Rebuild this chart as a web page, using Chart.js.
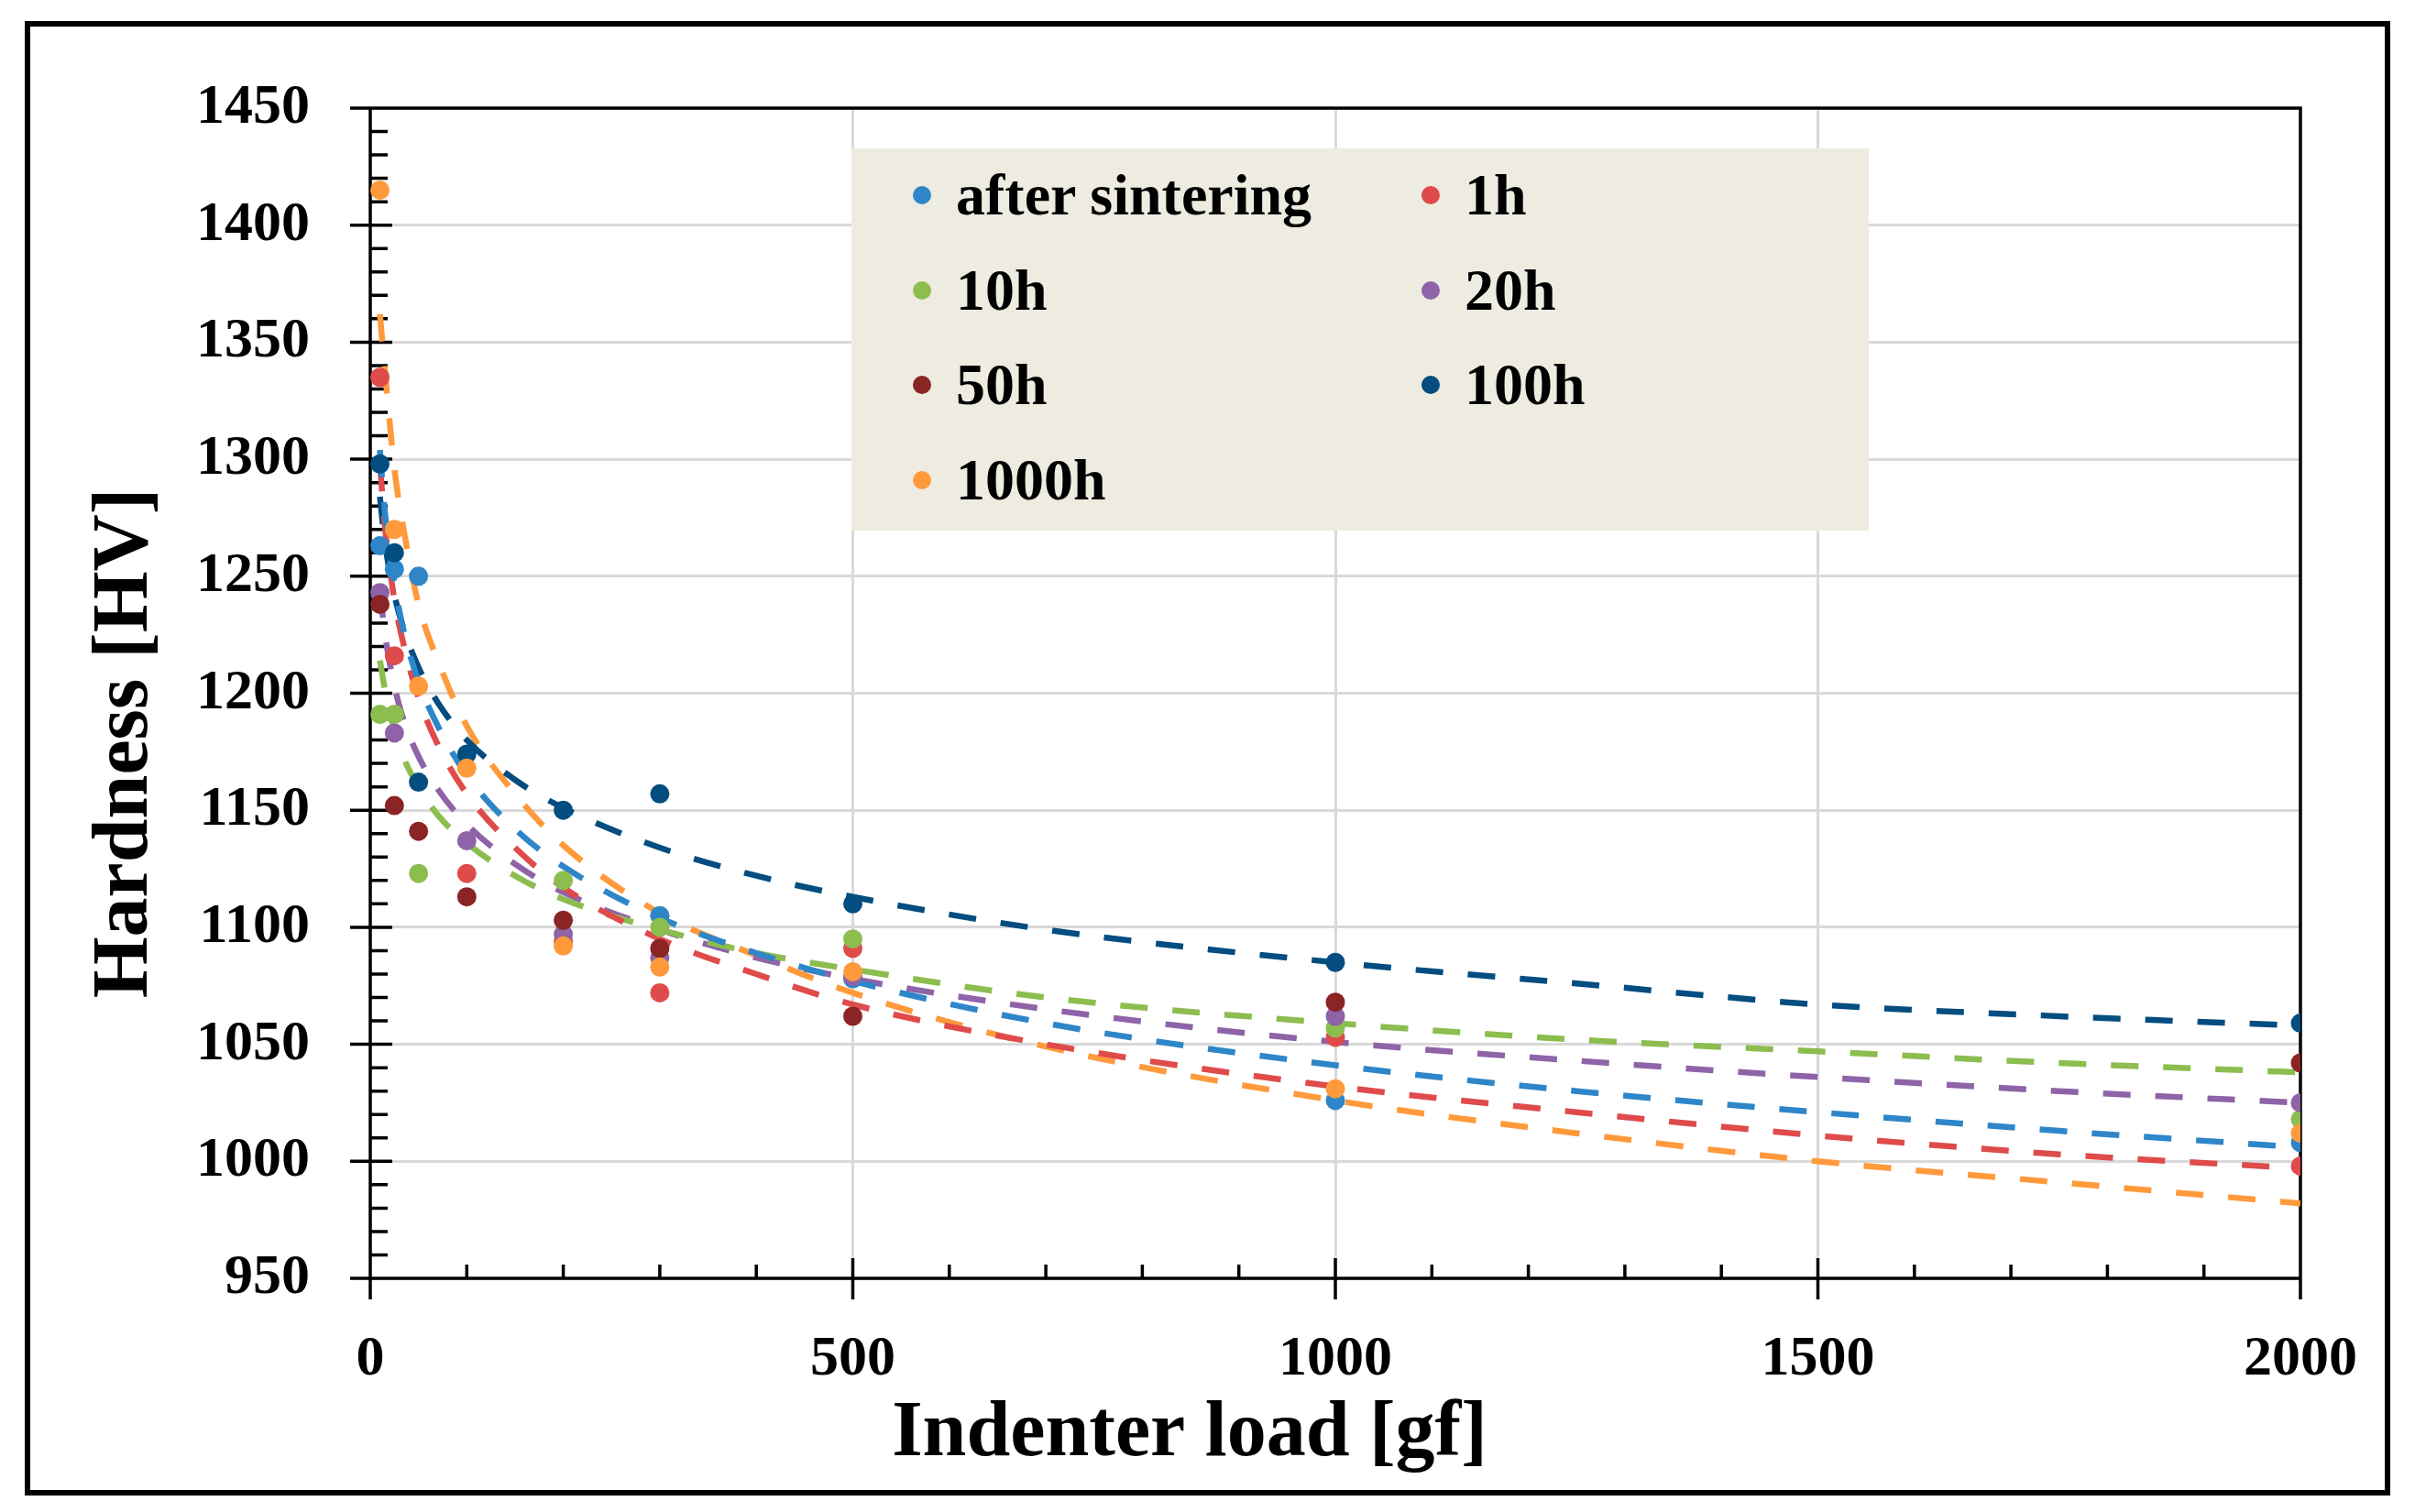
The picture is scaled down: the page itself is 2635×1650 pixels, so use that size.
<!DOCTYPE html>
<html>
<head>
<meta charset="utf-8">
<script src="https://cdn.jsdelivr.net/npm/chart.js@4.4.1/dist/chart.umd.min.js"></script>
<style>
  html, body { margin: 0; padding: 0; background: #fff; }
  #wrap { position: relative; width: 2635px; height: 1650px; }
  #frame {
    position: absolute; left: 27px; top: 23px; width: 2581px; height: 1609px;
    border: 6px solid #000; box-sizing: border-box; pointer-events: none;
  }
  #legend {
    position: absolute; left: 929px; top: 162px; width: 1110px; height: 417px;
    background: #EEECE1;
  }
  #legend .item {
    position: absolute; height: 64px; display: flex; align-items: center;
    font-family: 'Liberation Serif', serif; font-weight: bold; font-size: 64px;
    line-height: 64px; color: #000; white-space: nowrap;
  }
  #legend .dot { width: 20px; height: 20px; border-radius: 50%; margin-right: 27px; }
</style>
</head>
<body>
<div id="wrap">
  <canvas id="chart" width="2635" height="1650"></canvas>
  <div id="legend"></div>
  <div id="frame"></div>
</div>
<script>
// measured points, indenter load [gf] vs hardness [HV]
var loads = [10, 25, 50, 100, 200, 300, 500, 1000, 2000];
var afterSintering = [1263, 1253, 1250, null, null, 1105, 1078, 1026, 1008];
var h1 = [1335, 1216, null, 1123, 1094, 1072, 1091, 1053, 998];
var h10 = [1191, 1191, 1123, null, 1120, 1100, 1095, 1057, 1018];
var h20 = [1243, 1183, null, 1137, 1097, 1087, 1079, 1062, 1025];
var h50 = [1238, 1152, 1141, 1113, 1103, 1091, 1062, 1068, 1042];
var h100 = [1298, 1260, 1162, 1174, 1150, 1157, 1110, 1085, 1059];
var h1000 = [1415, 1270, 1203, 1168, 1092, 1083, 1081, 1031, 1012];

// dashed trend lines
var trendLoads = [10, 15, 25, 35, 50, 70, 100, 150, 200, 300, 400, 500, 700, 1000, 1250, 1500, 1750, 2000];
var trendAfterSintering = [1304, 1278, 1247, 1226, 1205, 1186, 1165, 1142, 1126, 1104, 1089, 1077, 1059, 1041, 1030, 1021, 1013, 1006];
var trend1h = [1298, 1272, 1240, 1220, 1198, 1178, 1157, 1134, 1117, 1095, 1080, 1067, 1050, 1032, 1021, 1011, 1003, 997];
var trend10h = [1214, 1202, 1184, 1172, 1160, 1148, 1136, 1122, 1112, 1099, 1089, 1082, 1070, 1059, 1052, 1047, 1042, 1038];
var trend20h = [1244, 1226, 1203, 1188, 1173, 1159, 1144, 1127, 1115, 1099, 1087, 1078, 1065, 1051, 1043, 1036, 1030, 1025];
var trend100h = [1284, 1265, 1242, 1227, 1211, 1196, 1180, 1163, 1151, 1134, 1122, 1113, 1099, 1085, 1076, 1067, 1062, 1058];
var trend1000h = [1362, 1339, 1296, 1269, 1238, 1214, 1186, 1157, 1135, 1106, 1088, 1072, 1049, 1026, 1012, 1000, 991, 982];

var seriesNames = ['after sintering', '1h', '10h', '20h', '50h', '100h', '1000h'];
var seriesValues = [afterSintering, h1, h10, h20, h50, h100, h1000];
var trendValues = [trendAfterSintering, trend1h, trend10h, trend20h, null, trend100h, trend1000h];
var colors = ['#2E86C8', '#DF4B4B', '#8CBD4F', '#8E63A8', '#8B2424', '#034D80', '#FF9A3C'];

var yTicks = { min: 950, max: 1450, step: 10, major: 50 };
var xTicks = { min: 0, max: 2000, step: 100, major: 500 };

function pairs(xs, ys) {
    var out = [];
    for (var i = 0; i < xs.length; i++) {
        if (ys[i] !== null) out.push({ x: xs[i], y: ys[i] });
    }
    return out;
}

var datasets = [];
seriesNames.forEach(function (name, i) {
    if (trendValues[i]) {
        datasets.push({
            label: name + ' trend',
            data: pairs(trendLoads, trendValues[i]),
            showLine: true,
            borderColor: colors[i],
            borderWidth: 6.5,
            borderDash: [30, 27],
            borderCapStyle: 'butt',
            cubicInterpolationMode: 'monotone',
            pointRadius: 0,
            order: 20 + i
        });
    }
    datasets.push({
        label: name,
        data: pairs(loads, seriesValues[i]),
        showLine: false,
        backgroundColor: colors[i],
        borderWidth: 0,
        pointRadius: 10.5,
        order: 10 - i
    });
});

// gridlines only on major steps, axis frame with crossing major ticks and inner minor ticks
var axisMarks = {
    id: 'axisMarks',
    beforeDatasetsDraw: function (chart) {
        var ctx = chart.ctx, a = chart.chartArea, x = chart.scales.x, y = chart.scales.y;
        ctx.save();
        ctx.strokeStyle = '#000';
        ctx.lineWidth = 3.5;
        ctx.beginPath();
        y.ticks.forEach(function (t) {
            var py = y.getPixelForValue(t.value);
            var major = t.value % yTicks.major === 0;
            ctx.moveTo(a.left - (major ? 22 : 0), py);
            ctx.lineTo(a.left + (major ? 24 : 19), py);
        });
        x.ticks.forEach(function (t) {
            var px = x.getPixelForValue(t.value);
            var major = t.value % xTicks.major === 0;
            ctx.moveTo(px, a.bottom + (major ? 23 : 0));
            ctx.lineTo(px, a.bottom - (major ? 22 : 15));
        });
        ctx.rect(a.left, a.top, a.right - a.left, a.bottom - a.top);
        ctx.stroke();
        ctx.restore();
    },
    afterDraw: function (chart) {
        var ctx = chart.ctx;
        ctx.save();
        ctx.fillStyle = '#000';
        ctx.font = 'bold 86px "Liberation Serif", serif';
        ctx.textAlign = 'center';
        ctx.textBaseline = 'middle';
        ctx.fillText('Indenter load [gf]', 1298, 1566);
        ctx.translate(138, 811);
        ctx.rotate(-Math.PI / 2);
        ctx.fillText('Hardness [HV]', 0, 0);
        ctx.restore();
    }
};

Chart.defaults.font.family = "'Liberation Serif', serif";
Chart.defaults.color = '#000';

new Chart(document.getElementById('chart'), {
    type: 'scatter',
    data: { datasets: datasets },
    options: {
        responsive: false,
        animation: false,
        events: [],
        layout: { padding: { top: 118, right: 125, left: 0, bottom: 0 } },
        plugins: {
            legend: { display: false },
            tooltip: { enabled: false }
        },
        scales: {
            x: {
                type: 'linear',
                min: xTicks.min,
                max: xTicks.max,
                afterFit: function (s) { s.height = 255; },
                border: { display: false },
                grid: {
                    drawTicks: false,
                    lineWidth: 3,
                    color: function (c) {
                        var v = c.tick.value;
                        return (v % xTicks.major === 0 && v > xTicks.min && v < xTicks.max) ? '#D9D9D9' : 'rgba(0,0,0,0)';
                    }
                },
                ticks: {
                    stepSize: xTicks.step,
                    autoSkip: false,
                    maxRotation: 0,
                    minRotation: 0,
                    padding: 52,
                    font: { size: 62, weight: 'bold' },
                    callback: function (v) { return v % xTicks.major === 0 ? v : ''; }
                }
            },
            y: {
                min: yTicks.min,
                max: yTicks.max,
                afterFit: function (s) { s.width = 404; },
                border: { display: false },
                grid: {
                    drawTicks: false,
                    lineWidth: 3,
                    color: function (c) {
                        return c.tick.value % yTicks.major === 0 ? '#D9D9D9' : 'rgba(0,0,0,0)';
                    }
                },
                ticks: {
                    stepSize: yTicks.step,
                    autoSkip: false,
                    padding: 66,
                    font: { size: 62, weight: 'bold' },
                    callback: function (v) { return v % yTicks.major === 0 ? v : ''; }
                }
            }
        }
    },
    plugins: [axisMarks]
});

// legend box, two columns
var legendBox = document.getElementById('legend');
seriesNames.forEach(function (name, i) {
    var item = document.createElement('div');
    item.className = 'item';
    item.style.left = (i % 2 ? 622 : 67) + 'px';
    item.style.top = Math.round(51 + Math.floor(i / 2) * 103.7 - 32) + 'px';
    var dot = document.createElement('span');
    dot.className = 'dot';
    dot.style.background = colors[i];
    var text = document.createElement('span');
    text.textContent = name;
    item.appendChild(dot);
    item.appendChild(text);
    legendBox.appendChild(item);
});
</script>
</body>
</html>
